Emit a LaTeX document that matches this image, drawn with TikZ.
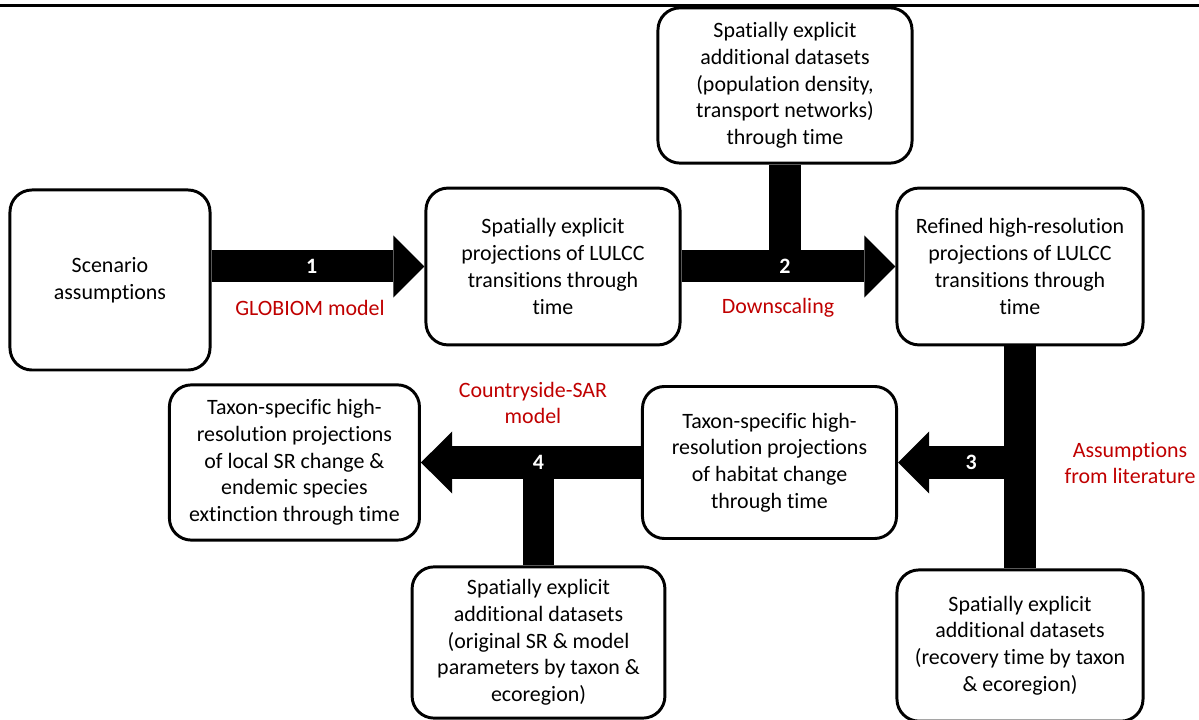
\documentclass[tikz,border=0pt]{standalone}
\usepackage{fontspec}
\setmainfont{Carlito}[Ligatures=NoCommon]
\usetikzlibrary{arrows.meta}
\usetikzlibrary{positioning}
\definecolor{notered}{RGB}{192,0,0}
\tikzset{
  box/.style={draw, line width=2.1pt, rounded corners=0.55cm, fill=white,
    align=center, inner sep=2pt, font=\fontsize{15.6}{19}\selectfont},
  flow/.style={line width=0.8cm,
    -{Triangle[length=0.78cm, width=1.55cm, line width=0pt]}},
  bar/.style={line width=0.78cm},
  num/.style={text=white, font=\fontsize{15.6}{18}\selectfont\bfseries},
  note/.style={text=notered, align=center, font=\fontsize{15.6}{19}\selectfont},
}
\begin{document}
\begin{tikzpicture}[x=0.025cm, y=-0.025cm]
    \useasboundingbox (0,0) rectangle (1199,720);
    \draw [line width=0.075cm] (0,6) -- (1199,6);

    \node [box, minimum width=5cm, minimum height=4.5cm] (scen) at (110,280)
      {Scenario\\assumptions};
    \node [box, minimum width=6.35cm, minimum height=3.92cm] (lulcc) at (553,266.5)
      {Spatially explicit\\projections of LULCC\\transitions through\\time};
    \node [box, minimum width=6.35cm, minimum height=3.88cm] (extra) at (785,85.5)
      {Spatially explicit\\additional datasets\\(population density,\\transport networks)\\through time};
    \node [box, minimum width=6.15cm, minimum height=3.92cm] (refined) at (1020,266.5)
      {Refined high-resolution\\projections of LULCC\\transitions through\\time};
    \node [box, minimum width=6.15cm, minimum height=3.78cm, below=5.55cm of refined] (recov)
      {Spatially explicit\\additional datasets\\(recovery time by taxon\\\& ecoregion)};
    \node [box, minimum width=6.35cm, minimum height=3.8cm] (habitat) at (769.5,462.5)
      {Taxon-specific high-\\resolution projections\\of habitat change\\through time};
    \node [box, minimum width=6.25cm, minimum height=3.88cm, left=5.5cm of habitat] (srchange)
      {Taxon-specific high-\\resolution projections\\of local SR change \&\\endemic species\\extinction through time};
    \node [box, minimum width=6.32cm, minimum height=3.78cm] (origsr) at (538.5,642.5)
      {Spatially explicit\\additional datasets\\(original SR \& model\\parameters by taxon \&\\ecoregion)};

    % 1: scenario -> coarse projections
    \draw [flow] (scen.east |- lulcc.west) -- node [num, pos=0.47] {1} (lulcc.west);
    \node [note] (globiom) at (310,308) {GLOBIOM model};

    % 2: downscaling with extra data
    \draw [bar] (extra.south) -- (extra.south |- lulcc.east);
    \draw [flow] (lulcc.east) -- (refined.west);
    \node [num] at (extra.south |- lulcc.east) {2};
    \node [note] (downsc) at (778,308) {Downscaling};

    % 3: habitat change
    \draw [bar] (refined.south) -- (recov.north);
    \draw [flow] (refined.south |- habitat.east) -- node [num, pos=0.4] {3} (habitat.east);
    \node [note] (assum) at (1130,463) {Assumptions\\from literature};

    % 4: countryside-SAR
    \draw [bar] (origsr.north) -- (origsr.north |- habitat.west);
    \draw [flow] (habitat.west) -- (srchange.east);
    \node [num] at (origsr.north |- habitat.west) {4};
    \node [note] (csar) at (533,403) {Countryside-SAR\\model};
\end{tikzpicture}
\end{document}
